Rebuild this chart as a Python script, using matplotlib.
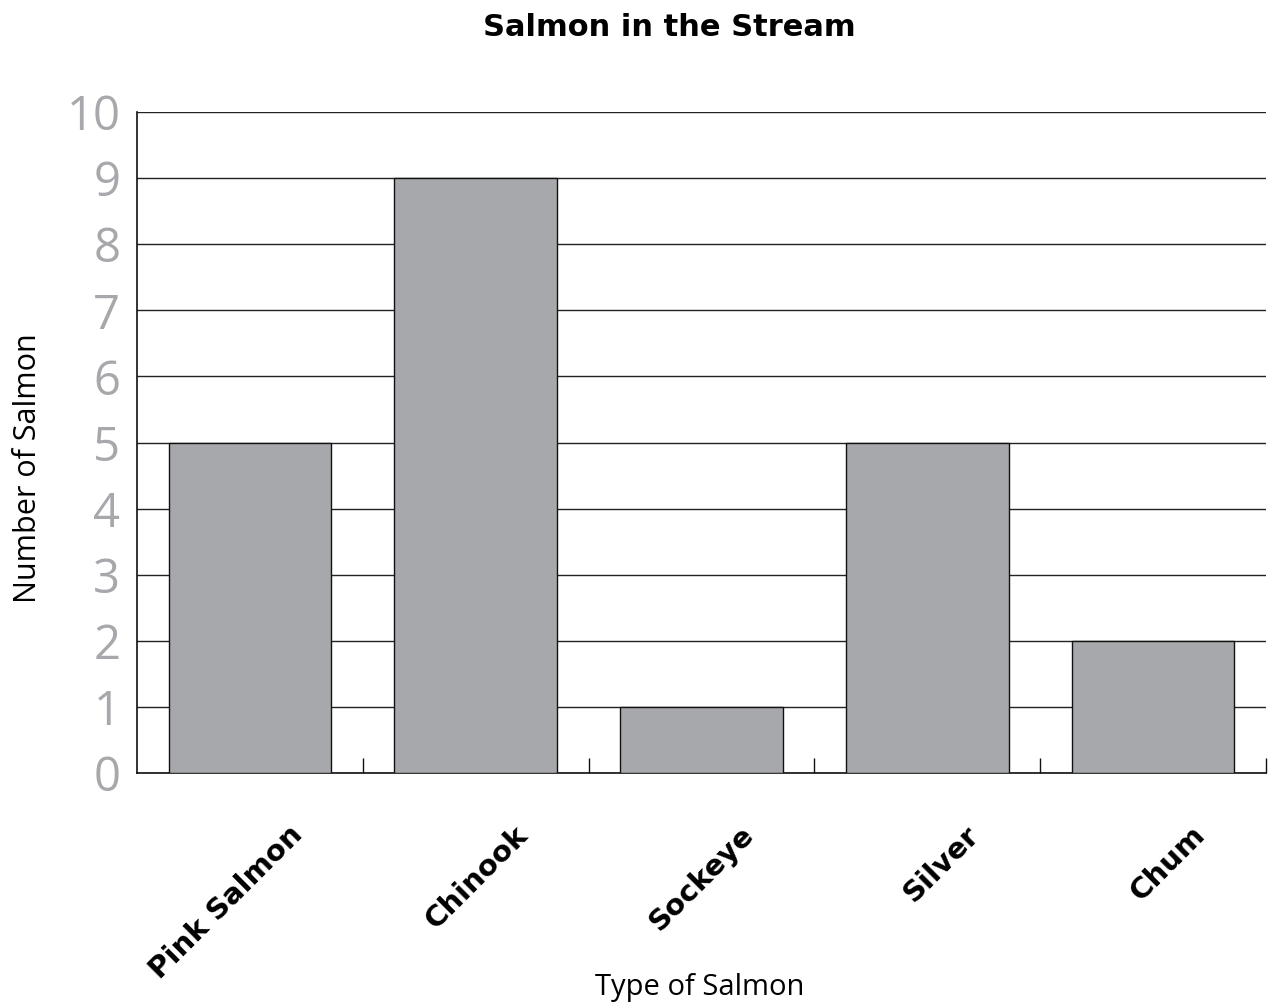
import numpy as np
import matplotlib
matplotlib.use("Agg")
import matplotlib.pyplot as plt
from matplotlib.transforms import ScaledTranslation

# ── data ─────────────────────────────────────────────────────────────────────
categories = ["Pink Salmon", "Chinook", "Sockeye", "Silver", "Chum"]
counts = [5, 9, 1, 5, 2]
y_ticks = list(range(0, 11))

BAR_COLOR = "#a7a8ab"
LABEL_GRAY = "#a7a8ab"

fig = plt.figure(figsize=(12.7, 10.08), dpi=100)
ax = fig.add_axes([0.1079, 0.2331, 0.8890, 0.6558])

x = np.arange(len(categories))
ax.bar(x, counts, width=0.72, color=BAR_COLOR, edgecolor="#111111", linewidth=1.0, zorder=3)

ax.set_xlim(-0.5, len(categories) - 0.5)
ax.set_ylim(0, 10)
ax.set_yticks(y_ticks)
ax.set_yticklabels([str(v) for v in y_ticks], fontsize=34, color=LABEL_GRAY,
                   fontfamily="Open Sans")
ax.tick_params(axis="y", length=0, pad=12)

ax.set_xticks(x)
ax.set_xticklabels(categories, rotation=45, ha="right", rotation_mode="anchor",
                   fontsize=21, fontweight="bold", fontfamily="DejaVu Sans")
ax.tick_params(axis="x", which="major", length=0, pad=30)
ax.set_xticks(np.arange(len(categories)) + 0.5, minor=True)
ax.tick_params(axis="x", which="minor", direction="in", length=11, width=1.0, color="#111111")
# shift the rotated labels right so their ends sit past the bar centres
shift = ScaledTranslation(0.38, -0.06, fig.dpi_scale_trans)
for lbl in ax.get_xticklabels():
    lbl.set_transform(lbl.get_transform() + shift)

ax.grid(axis="y", color="#222222", linewidth=1.0, zorder=0)
ax.set_axisbelow(True)
for s in ["top", "right"]:
    ax.spines[s].set_visible(False)
for s in ["left", "bottom"]:
    ax.spines[s].set_color("#111111")
    ax.spines[s].set_linewidth(1.2)

fig.text(28 / 1270, 1 - 468 / 1008, "Number of Salmon", fontsize=22, fontfamily="Open Sans",
         rotation=90, ha="center", va="center")
fig.text(700 / 1270, 1 - 988 / 1008, "Type of Salmon", fontsize=21, fontfamily="Open Sans",
         ha="center", va="center")
fig.text(669 / 1270, 1 - 27 / 1008, "Salmon in the Stream", fontsize=22, fontweight="bold",
         ha="center", va="center")

fig.savefig("out.png", dpi=100)
